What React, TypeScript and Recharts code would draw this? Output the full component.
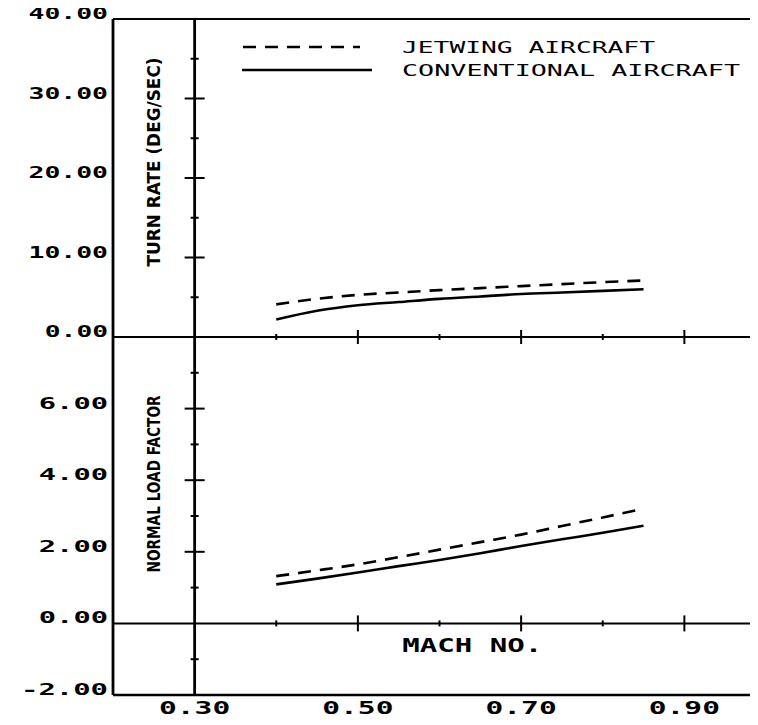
import React from 'react';
import { ComposedChart, Line, Scatter, XAxis, YAxis, ReferenceLine, Legend } from 'recharts';

// ---- data ----
const mach = [0.40, 0.45, 0.50, 0.55, 0.60, 0.65, 0.70, 0.75, 0.80, 0.85];
const turnRateJetwing = [4.1, 4.8, 5.3, 5.6, 5.9, 6.15, 6.4, 6.65, 6.9, 7.1];
const turnRateConventional = [2.2, 3.3, 4.0, 4.4, 4.8, 5.1, 5.4, 5.6, 5.8, 6.0];
const loadJetwing = [1.32, 1.48, 1.65, 1.85, 2.06, 2.27, 2.48, 2.72, 2.96, 3.2];
const loadConventional = [1.09, 1.25, 1.42, 1.6, 1.77, 1.96, 2.16, 2.35, 2.53, 2.73];

const machDomain = [0.2, 1.0];
const machTicks = [0.3, 0.5, 0.7, 0.9];
const machMajorMarks = [0.5, 0.7, 0.9];
const machMinorMarks = [0.4, 0.6, 0.8];
const machOrigin = 0.3;

const turnDomain = [0, 40];
const turnTicks = [0, 10, 20, 30, 40];
const turnMajorMarks = [10, 20, 30];
const turnMinorMarks = [5, 15, 25, 35];

const loadDomain = [-2, 8];
const loadTicks = [-2, 0, 2, 4, 6];
const loadMajorMarks = [2, 4, 6];
const loadMinorMarks = [-1, 1, 3, 5, 7];

const seriesOrder = ['jet', 'conv'];
const seriesNames: Record<string, string> = { jet: 'JETWING AIRCRAFT', conv: 'CONVENTIONAL AIRCRAFT' };
const xTitle = 'MACH NO.';
const turnTitle = 'TURN RATE (DEG/SEC)';
const loadTitle = 'NORMAL LOAD FACTOR';

// ---- tables built from the arrays ----
const turnData = mach.map((x, i) => ({ x, jet: turnRateJetwing[i], conv: turnRateConventional[i] }));
const loadData = mach.map((x, i) => ({ x, jet: loadJetwing[i], conv: loadConventional[i] }));
const onOrigin = (vals: number[]) => vals.map((y) => ({ x: machOrigin, y }));
const onZero = (vals: number[]) => vals.map((x) => ({ x, y: 0 }));

const INK = '#000';
const MONO = '"DejaVu Sans Mono", "Liberation Mono", monospace';
const DASH = '13 9';
const dashByKey: Record<string, string | undefined> = { jet: DASH, conv: undefined };

const hMark = (half: number) => (p: any) => (
  <line x1={p.cx - half} x2={p.cx + half} y1={p.cy} y2={p.cy} stroke={INK} strokeWidth={2} />
);
const vMark = (half: number) => (p: any) => (
  <line x1={p.cx} x2={p.cx} y1={p.cy - half} y2={p.cy + half} stroke={INK} strokeWidth={2} />
);

const yTick = (perChar: number) => (props: any) => {
  const s = Number(props.payload.value).toFixed(2);
  return (
    <text
      x={props.x}
      y={props.y}
      textAnchor="end"
      fontFamily={MONO}
      fontWeight="bold"
      fontSize={16}
      fill={INK}
      textLength={s.length * perChar - 2}
      lengthAdjust="spacingAndGlyphs"
    >
      {s}
    </text>
  );
};

const xTick = (props: any) => {
  const s = Number(props.payload.value).toFixed(2);
  return (
    <text
      x={props.x}
      y={props.y}
      dy="0.72em"
      textAnchor="middle"
      fontFamily={MONO}
      fontWeight="bold"
      fontSize={17}
      fill={INK}
      textLength={s.length * 18.3 - 2}
      lengthAdjust="spacingAndGlyphs"
    >
      {s}
    </text>
  );
};

const yTitle = (text: string, dy: number, len: number) => (props: any) => {
  const vb = props.viewBox || { x: 0, y: 0, width: 0, height: 0 };
  const x = vb.x + vb.width + 40;
  const y = vb.y + vb.height / 2 + dy;
  return (
    <text
      x={x}
      y={y}
      transform={`rotate(-90, ${x}, ${y})`}
      textAnchor="middle"
      dominantBaseline="central"
      fontFamily='"DejaVu Sans", sans-serif'
      fontWeight="bold"
      fontSize={18}
      fill={INK}
      textLength={len}
      lengthAdjust="spacingAndGlyphs"
    >
      {text}
    </text>
  );
};

const machTitle = (props: any) => {
  const vb = props.viewBox || { x: 0, y: 0, width: 0, height: 0 };
  return (
    <text
      x={vb.x + vb.width * 0.55}
      y={vb.y - 50}
      textAnchor="middle"
      dominantBaseline="central"
      fontFamily={MONO}
      fontWeight="bold"
      fontSize={19}
      fill={INK}
      textLength={140}
      lengthAdjust="spacingAndGlyphs"
    >
      {xTitle}
    </text>
  );
};

const legendLengths: Record<string, number> = { jet: 253, conv: 338 };

const renderLegend = (props: any) => {
  const items = (props.payload || [])
    .filter((e: any) => seriesOrder.includes(e.dataKey))
    .sort((a: any, b: any) => seriesOrder.indexOf(a.dataKey) - seriesOrder.indexOf(b.dataKey));
  return (
    <svg width={520} height={44}>
      {items.map((e: any, i: number) => {
        const y = 9 + i * 23;
        const dash = dashByKey[e.dataKey];
        return (
          <g key={String(e.dataKey)}>
            <line
              x1={dash ? 5 : 4}
              x2={dash ? 122 : 134}
              y1={y}
              y2={y}
              stroke={INK}
              strokeWidth={2.5}
              strokeDasharray={dash}
            />
            <text
              x={164}
              y={y + 5.5}
              fontFamily={MONO}
              fontSize={15}
              fill={INK}
              textLength={legendLengths[e.dataKey]}
              lengthAdjust="spacingAndGlyphs"
            >
              {e.value}
            </text>
          </g>
        );
      })}
    </svg>
  );
};

const CHART_W = 770;
const PLOT_MARGIN_RIGHT = 12;
const Y_AXIS_W = 105;

export default function App() {
  return (
    <div
      style={{
        position: 'relative',
        marginTop: -8,
        marginBottom: -8,
        width: 750,
        height: 725,
        overflow: 'hidden',
        background: '#fff',
      }}
    >
      {/* upper panel: turn rate */}
      <div style={{ position: 'absolute', left: 0, top: 0 }}>
        <ComposedChart
          width={CHART_W}
          height={353}
          data={turnData}
          margin={{ top: 19, right: PLOT_MARGIN_RIGHT, bottom: 16, left: 0 }}
        >
          <XAxis dataKey="x" type="number" domain={machDomain} allowDataOverflow hide />
          <YAxis
            type="number"
            domain={turnDomain}
            ticks={turnTicks}
            interval={0}
            width={Y_AXIS_W}
            tickSize={0}
            tickMargin={5}
            tickLine={false}
            axisLine={{ stroke: INK, strokeWidth: 2.8 }}
            tick={yTick(16.3)}
            label={{ content: yTitle(turnTitle, -16, 209) }}
          />
          <ReferenceLine y={40} stroke={INK} strokeWidth={2.2} />
          <ReferenceLine y={0} stroke={INK} strokeWidth={2} />
          <ReferenceLine x={machOrigin} stroke={INK} strokeWidth={2.8} />
          <Scatter data={onOrigin(turnMajorMarks)} dataKey="y" shape={hMark(10)} legendType="none" isAnimationActive={false} />
          <Scatter data={onOrigin(turnMinorMarks)} dataKey="y" shape={hMark(4)} legendType="none" isAnimationActive={false} />
          <Scatter data={onZero(machMajorMarks)} dataKey="y" shape={vMark(7)} legendType="none" isAnimationActive={false} />
          <Scatter data={onZero(machMinorMarks)} dataKey="y" shape={vMark(3)} legendType="none" isAnimationActive={false} />
          <Line
            dataKey="jet"
            name={seriesNames.jet}
            type="monotone"
            stroke={INK}
            strokeWidth={2.6}
            strokeDasharray={DASH}
            dot={false}
            isAnimationActive={false}
          />
          <Line
            dataKey="conv"
            name={seriesNames.conv}
            type="monotone"
            stroke={INK}
            strokeWidth={2.6}
            dot={false}
            isAnimationActive={false}
          />
          <Legend
            layout="vertical"
            align="center"
            verticalAlign="middle"
            content={renderLegend}
            wrapperStyle={{ position: 'absolute', left: 230, top: 38, width: 520, height: 44 }}
          />
        </ComposedChart>
      </div>

      {/* lower panel: normal load factor */}
      <div style={{ position: 'absolute', left: 0, top: 329 }}>
        <ComposedChart
          width={CHART_W}
          height={396}
          data={loadData}
          margin={{ top: 8, right: PLOT_MARGIN_RIGHT, bottom: 0, left: 0 }}
        >
          <XAxis
            dataKey="x"
            type="number"
            domain={machDomain}
            allowDataOverflow
            ticks={machTicks}
            interval={0}
            height={30}
            tickSize={0}
            tickMargin={7}
            tickLine={false}
            axisLine={{ stroke: INK, strokeWidth: 2.4 }}
            tick={xTick}
            label={{ content: machTitle }}
          />
          <YAxis
            type="number"
            domain={loadDomain}
            ticks={loadTicks}
            interval={0}
            width={Y_AXIS_W}
            tickSize={0}
            tickMargin={5}
            tickLine={false}
            axisLine={{ stroke: INK, strokeWidth: 2.8 }}
            tick={yTick(17.8)}
            label={{ content: yTitle(loadTitle, -32, 177) }}
          />
          <ReferenceLine y={0} stroke={INK} strokeWidth={2} />
          <ReferenceLine x={machOrigin} stroke={INK} strokeWidth={2.8} />
          <Scatter data={onOrigin(loadMajorMarks)} dataKey="y" shape={hMark(10)} legendType="none" isAnimationActive={false} />
          <Scatter data={onOrigin(loadMinorMarks)} dataKey="y" shape={hMark(4)} legendType="none" isAnimationActive={false} />
          <Scatter data={onZero(machMajorMarks)} dataKey="y" shape={vMark(8)} legendType="none" isAnimationActive={false} />
          <Scatter data={onZero(machMinorMarks)} dataKey="y" shape={vMark(3)} legendType="none" isAnimationActive={false} />
          <Line
            dataKey="jet"
            name={seriesNames.jet}
            type="monotone"
            stroke={INK}
            strokeWidth={2.6}
            strokeDasharray={DASH}
            dot={false}
            isAnimationActive={false}
          />
          <Line
            dataKey="conv"
            name={seriesNames.conv}
            type="monotone"
            stroke={INK}
            strokeWidth={2.6}
            dot={false}
            isAnimationActive={false}
          />
        </ComposedChart>
      </div>
    </div>
  );
}
